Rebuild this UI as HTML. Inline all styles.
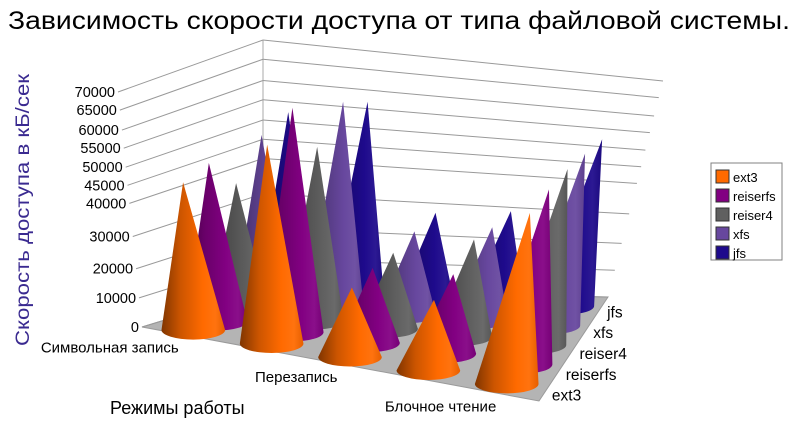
<!DOCTYPE html>
<html><head><meta charset="utf-8"><style>
html,body{margin:0;padding:0;background:#fff;}
svg{display:block;font-family:"Liberation Sans","DejaVu Sans",sans-serif;}
</style></head><body>
<svg id="chart" width="800" height="424" viewBox="0 0 800 424" xmlns="http://www.w3.org/2000/svg">
<defs id="defs"></defs>
<text x="8" y="29" font-size="25" textLength="782" lengthAdjust="spacingAndGlyphs" fill="#000">Зависимость скорости доступа от типа файловой системы.</text>
<text transform="translate(29,346) rotate(-90)" font-size="19" textLength="272" lengthAdjust="spacingAndGlyphs" fill="#3a2a90">Скорость доступа в кБ/сек</text>
<text x="110" y="414" font-size="18" fill="#000">Режимы работы</text>
<g id="walls"></g>
<g id="cones"></g>
<g id="labels"></g>
<g>
<rect x="711" y="163" width="71" height="97" fill="#fff" stroke="#808080" stroke-width="1"/>
<g id="legend-items"></g>
</g>
</svg>
<script>
const categories = ["Символьная запись","Блочная запись","Перезапись","Символьное чтение","Блочное чтение"];
const seriesNames = ["ext3","reiserfs","reiser4","xfs","jfs"];
const ext3 = [47000, 62400, 25000, 26100, 59500];
const reiserfs = [49400, 68600, 26500, 28800, 60000];
const reiser4 = [41000, 54200, 26500, 34300, 59500];
const xfs = [51100, 62600, 28500, 32400, 57500];
const jfs = [54100, 59000, 29600, 31800, 55300];
const tickValues = [0, 10000, 20000, 30000, 40000, 45000, 50000, 55000, 60000, 65000, 70000];
const tickFracs = [0, 0.124, 0.248, 0.385, 0.526, 0.603, 0.68, 0.761, 0.838, 0.923, 1];
const seriesValues = [ext3, reiserfs, reiser4, xfs, jfs];
const colors = ["#ff6a00","#820082","#606060","#67479e","#1e0a8c"];

const NS="http://www.w3.org/2000/svg";
const FL=[142,327],FR=[539,401],BL=[263,290],BR=[608,297];
const HFL=[-24,-235],HFR=[31,-201],HBL=[0,-250],HBR=[55,-216];
function bil(a,b,c,d,u,v,k){return (1-u)*(1-v)*a[k]+u*(1-v)*b[k]+(1-u)*v*c[k]+u*v*d[k];}
function yFrac(val){
  for(let i=1;i<tickValues.length;i++){
    if(val<=tickValues[i]){const t=(val-tickValues[i-1])/(tickValues[i]-tickValues[i-1]);return tickFracs[i-1]+t*(tickFracs[i]-tickFracs[i-1]);}
  }
  return 1;
}
function pt(u,v,val){
  const f=yFrac(val);
  return [bil(FL,FR,BL,BR,u,v,0)+f*bil(HFL,HFR,HBL,HBR,u,v,0), bil(FL,FR,BL,BR,u,v,1)+f*bil(HFL,HFR,HBL,HBR,u,v,1)];
}
function mk(tag,attrs,parent){const e=document.createElementNS(NS,tag);for(const k in attrs)e.setAttribute(k,attrs[k]);parent.appendChild(e);return e;}
function shade(hex,f){const n=parseInt(hex.slice(1),16);let r=n>>16,g=(n>>8)&255,b=n&255;
  const c=x=>Math.max(0,Math.min(255,Math.round(f>1?x+(255-x)*(f-1):x*f)));return "rgb("+c(r)+","+c(g)+","+c(b)+")";}

const defs=document.getElementById('defs');
colors.forEach((c,i)=>{
  const g=mk('linearGradient',{id:'g'+i,x1:'0',y1:'0',x2:'1',y2:'0'},defs);
  [[0,0.5],[0.3,0.8],[0.65,1.0],[0.85,1.06],[1,0.9]].forEach(s=>mk('stop',{offset:s[0],'stop-color':shade(c,s[1])},g));
});

// walls
const walls=document.getElementById('walls');
const floor=mk('polygon',{points:[FL,FR,BR,BL].map(p=>p.join(',')).join(' '),fill:'#b4b4b4',stroke:'#9a9a9a','stroke-width':1},walls);


const backEdge=mk('line',{x1:BL[0],y1:BL[1],x2:BL[0]+HBL[0],y2:BL[1]+HBL[1],stroke:'#aaa','stroke-width':1},walls);


const labels=document.getElementById('labels');
tickValues.forEach((tv,i)=>{
  const a=pt(0,0,tv),b=pt(0,1,tv),c=pt(1,1,tv);
  const l1=mk('line',{x1:a[0],y1:a[1],x2:b[0],y2:b[1],stroke:'#999','stroke-width':1},walls);
  
  
  const l2=mk('line',{x1:b[0],y1:b[1],x2:c[0],y2:c[1],stroke:'#999','stroke-width':1},walls);
  
  
  const t=mk('text',{x:a[0]-3,y:a[1]+5,'font-size':14.5,'text-anchor':'end',fill:'#000'},labels);
  t.textContent=String(tv);
  
  
});
categories.forEach((c,i)=>{
  if(i%2) return;
  const p=pt((i+0.5)/5,0,0);
  const t=mk('text',{x:p[0]-3,y:p[1]+18,'font-size':15,'text-anchor':'end',fill:'#000'},labels);
  t.textContent=c;
  
  
});
seriesNames.forEach((s,j)=>{
  const p=pt(1,(j+0.5)/5,0);
  const t=mk('text',{x:p[0]+6,y:p[1]+10,'font-size':15.5,fill:'#000'},labels);
  t.textContent=s;
  
  
});

// cones
const cones=document.getElementById('cones');
for(let j=4;j>=0;j--){
  for(let i=0;i<5;i++){
    const u=(i+0.5)/5,v=(j+0.5)/5;
    const base=pt(u,v,0),tip=pt(u,v,seriesValues[j][i]);
    const a=pt(u-0.08,v,0),b=pt(u+0.08,v,0);
    const rx=Math.hypot(b[0]-a[0],b[1]-a[1])/2, ry=rx*0.3;
    const d='M'+(base[0]-rx)+','+base[1]+' L'+tip[0]+','+tip[1]+' L'+(base[0]+rx)+','+base[1]+' A'+rx+','+ry+' 0 0 1 '+(base[0]-rx)+','+base[1]+' Z';
    const p=mk('path',{d:d,fill:'url(#g'+j+')'},cones);
    
    
  }
}

// legend
const li=document.getElementById('legend-items');
seriesNames.forEach((s,j)=>{
  const y=170+j*19;
  const r=mk('rect',{x:716,y:y,width:13,height:13,fill:colors[j],stroke:'#333','stroke-width':1},li);
  
  
  const t=mk('text',{x:733,y:y+12,'font-size':13,fill:'#000'},li);
  t.textContent=s;
  
  
});
</script>
</body></html>
